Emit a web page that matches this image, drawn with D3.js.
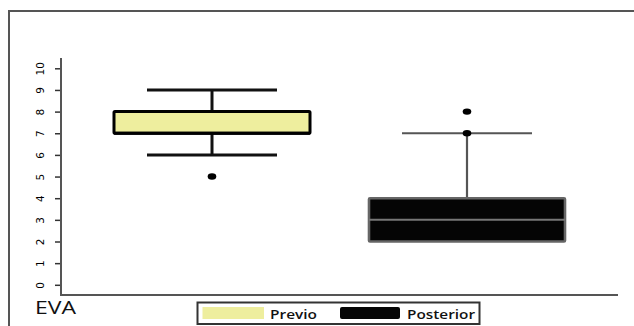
<!DOCTYPE html>
<html><head><meta charset="utf-8">
<script src="https://cdn.jsdelivr.net/npm/d3@7"></script>
<style>html,body{margin:0;padding:0;background:#fff;}svg{display:block;}</style>
</head><body>
<svg id="chart" width="634" height="326"></svg>
<script>
const categories = ["Previo", "Posterior"];
const q1 = [7, 2];
const medians = [7, 3];
const q3 = [8, 4];
const whiskerLow = [6, 2];
const whiskerHigh = [9, 7];
const outliers = [[5], [7, 8]];
const yTickValues = [0,1,2,3,4,5,6,7,8,9,10];
const yLabel = "EVA";

const svg = d3.select("#chart");
const fills = ["#EEEE9E", "#050505"];
const strokes = ["#000", "#666"];
const whiskerColors = ["#111", "#555"];
const whiskerWidths = [3, 2.2];
const boxStrokeW = [3, 2.6];

// frame
svg.append("path").attr("d", "M9,326 L9,11 L634,11").attr("fill", "none").attr("stroke", "#555").attr("stroke-width", 2);

const y = d3.scaleLinear().domain([0, 10]).range([284.8, 68.3]);
const x = d3.scalePoint().domain(categories).range([212, 467]);
const boxW = 196, capW = 130;

// axes
const yAxis = d3.axisLeft(y).tickValues(yTickValues).tickSize(6).tickPadding(3).tickFormat(d3.format("d"));
const gy = svg.append("g").attr("transform", "translate(61,0)").call(yAxis);
gy.select(".domain").remove();
gy.selectAll(".tick line").attr("stroke", "#333").attr("stroke-width", 1.5);
gy.selectAll(".tick text")
  .attr("font-family", "DejaVu Sans, sans-serif").attr("font-size", 10.5).attr("fill", "#000")
  .attr("text-anchor", "middle").attr("x", 0).attr("dy", 0)
  .attr("transform", "translate(-21,0) rotate(-90) translate(0,3.8)");
svg.append("path").attr("d", "M61,58 L61,295 L618,295").attr("fill", "none").attr("stroke", "#555").attr("stroke-width", 2);

// boxes
categories.forEach((c, i) => {
  const cx = x(c);
  const g = svg.append("g");
  if (whiskerHigh[i] > q3[i]) {
    g.append("line").attr("x1", cx).attr("x2", cx).attr("y1", y(q3[i])).attr("y2", y(whiskerHigh[i]))
      .attr("stroke", whiskerColors[i]).attr("stroke-width", whiskerWidths[i]);
    g.append("line").attr("x1", cx - capW/2).attr("x2", cx + capW/2).attr("y1", y(whiskerHigh[i])).attr("y2", y(whiskerHigh[i]))
      .attr("stroke", whiskerColors[i]).attr("stroke-width", whiskerWidths[i]);
  }
  if (whiskerLow[i] < q1[i]) {
    g.append("line").attr("x1", cx).attr("x2", cx).attr("y1", y(q1[i])).attr("y2", y(whiskerLow[i]))
      .attr("stroke", whiskerColors[i]).attr("stroke-width", whiskerWidths[i]);
    g.append("line").attr("x1", cx - capW/2).attr("x2", cx + capW/2).attr("y1", y(whiskerLow[i])).attr("y2", y(whiskerLow[i]))
      .attr("stroke", whiskerColors[i]).attr("stroke-width", whiskerWidths[i]);
  }
  g.append("rect").attr("x", cx - boxW/2).attr("width", boxW)
    .attr("y", y(q3[i])).attr("height", y(q1[i]) - y(q3[i]))
    .attr("fill", fills[i]).attr("stroke", strokes[i]).attr("stroke-width", boxStrokeW[i]).attr("rx", 1);
  g.append("line").attr("x1", cx - boxW/2).attr("x2", cx + boxW/2).attr("y1", y(medians[i])).attr("y2", y(medians[i]))
    .attr("stroke", i === 0 ? "#000" : "#777").attr("stroke-width", i === 0 ? 3 : 2);
  g.selectAll("ellipse").data(outliers[i]).enter().append("ellipse")
    .attr("cx", cx).attr("cy", d => y(d)).attr("rx", 4.3).attr("ry", 3.2).attr("fill", "#000");
});

// y label
svg.append("text").attr("x", 35).attr("y", 313.5).text(yLabel)
  .attr("font-family", "Open Sans, sans-serif").attr("font-size", 17.5).attr("fill", "#111")
  .attr("textLength", 41).attr("lengthAdjust", "spacingAndGlyphs");

// legend
const lg = svg.append("g");
lg.append("rect").attr("x", 197.5).attr("y", 302.5).attr("width", 282).attr("height", 21.5)
  .attr("fill", "#fff").attr("stroke", "#333").attr("stroke-width", 2);
const legendX = [202.5, 340];
const legendW = [61.5, 60];
const legendTextX = [270, 407];
const legendTextW = [47, 68];
categories.forEach((c, i) => {
  lg.append("rect").attr("x", legendX[i]).attr("y", 307).attr("width", legendW[i]).attr("height", 12)
    .attr("fill", fills[i]).attr("rx", i === 1 ? 2 : 0);
  lg.append("text").attr("x", legendTextX[i]).attr("y", 318.5).text(c)
    .attr("font-family", "Open Sans, sans-serif").attr("font-size", 13).attr("font-weight", 600).attr("fill", "#111")
    .attr("textLength", legendTextW[i]).attr("lengthAdjust", "spacingAndGlyphs");
});
</script>
</body></html>
